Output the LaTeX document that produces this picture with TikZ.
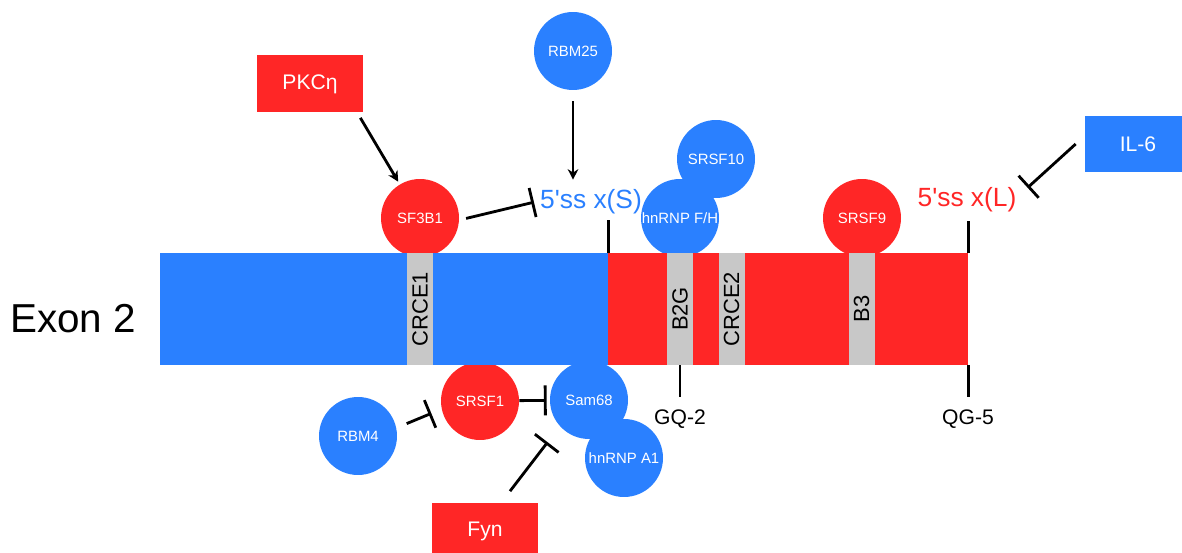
\documentclass[tikz,border=0pt]{standalone}
\usepackage{fontspec}
\setmainfont{Liberation Sans}
\usetikzlibrary{arrows.meta}
\definecolor{cBlue}{RGB}{42,128,255}
\definecolor{cRed}{RGB}{255,38,38}
\definecolor{cGray}{RGB}{200,200,200}
\newcommand{\ssite}{5\textquotesingle ss}

\begin{document}
\begin{tikzpicture}[
    x=0.02cm, y=-0.02cm,
    prot/.style={circle,fill=#1,minimum size=1.56cm,inner sep=0pt,text=white,font=\fontsize{8.5}{10}\selectfont},
    sig/.style={rectangle,fill=#1,minimum width=2.12cm,minimum height=1.14cm,text=white,font=\fontsize{12}{14}\selectfont},
    seg/.style={rectangle,fill=#1,minimum height=2.24cm,inner sep=0pt},
    elem/.style={rectangle,fill=cGray,rotate=90,minimum width=2.24cm,minimum height=0.52cm,inner sep=0pt,font=\fontsize{12.5}{14}\selectfont},
    act/.style={-{Stealth[length=6pt,width=6pt]},line width=1.6pt},
    inh/.style={-{Bar[width=17pt]},line width=1.6pt},
    sitetick/.style={line width=1.6pt},
    lbl/.style={font=\fontsize{12}{14}\selectfont,anchor=base}
  ]
  \useasboundingbox (0,0) rectangle (1182,553);

  % proteins on the exon
  \node[prot=cRed]  (sf3b1)  at (420,218) {SF3B1};
  \node[prot=cBlue] (srsf10) at (716,159) {SRSF10};
  \node[prot=cBlue] (hnrnpf) at (680,218) {hnRNP F/H};
  \node[prot=cRed]  (srsf9)  at (862,218) {SRSF9};
  \node[prot=cBlue] (rbm25)  at (573,51)  {RBM25};
  \node[prot=cBlue] (hnrnpa) at (624,458) {hnRNP A1};
  \node[prot=cBlue] (sam68)  at (589,400) {Sam68};
  \node[prot=cRed]  (srsf1)  at (480,401) {SRSF1};
  \node[prot=cBlue] (rbm4)   at (358,436) {RBM4};

  % signals
  \node[sig=cRed]  (pkc) at (310,84)   {PKCη};
  \node[sig=cBlue] (il6) at (1138,144) {IL-6};
  \node[sig=cRed]  (fyn) at (485,531)  {Fyn};

  % exon 2
  \node[seg=cBlue,minimum width=8.96cm] (exS) at (384,309) {};
  \node[seg=cRed,minimum width=7.2cm]   (exL) at (788,309) {};
  \node[elem] (crce1) at (420,309)   {CRCE1};
  \node[elem] (b2g)   at (680,309)   {B2G};
  \node[elem] (crce2) at (731.5,309) {CRCE2};
  \node[elem] (b3)    at (861.5,309) {B3};
  \node[lbl,font=\fontsize{23}{26}\selectfont] (exon) at (73,333) {Exon 2};

  % splice sites and G-quadruplexes
  \node[lbl,font=\fontsize{15}{18}\selectfont,text=cBlue] (ssS) at (591,209) {\ssite{} x(S)};
  \node[lbl,font=\fontsize{15}{18}\selectfont,text=cRed]  (ssL) at (967,207) {\ssite{} x(L)};
  \node[lbl] (gq2) at (680,424) {GQ-2};
  \node[lbl] (qg5) at (968,424) {QG-5};
  \draw[sitetick] (exS.north east) -- ++(0,-33);
  \draw[sitetick] (exL.north east) -- ++(0,-32);
  \draw[sitetick] (b2g.center |- exL.south) -- ++(0,32);
  \draw[sitetick] (exL.south east) -- ++(0,32);

  % regulation
  \draw[act,shorten >=0.06cm] ([shift={(-3,5)}]pkc.south east) -- (sf3b1.121);
  \draw[act,shorten <=0.22cm,shorten >=0.08cm] (rbm25) -- (rbm25 |- ssS.north);
  \draw[inh,shorten <=0.14cm] (sf3b1.-3) -- (ssS.west);
  \draw[inh] ([shift={(-9,0)}]il6.west) -- ([shift={(5,6)}]ssL.north east);
  \draw[inh,shorten <=0.22cm,shorten >=0.22cm] (rbm4.12) -- (srsf1.192);
  \draw[inh,shorten >=0.06cm] (srsf1) -- (sam68);
  \draw[inh,shorten >=0.4cm] ([shift={(25,-11)}]fyn.north) -- (sam68.222);
\end{tikzpicture}
\end{document}
